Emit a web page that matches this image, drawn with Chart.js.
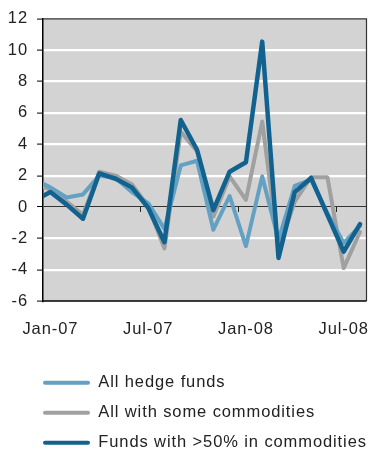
<!DOCTYPE html>
<html>
<head>
<meta charset="utf-8">
<script src="https://cdn.jsdelivr.net/npm/chart.js@4/dist/chart.umd.min.js"></script>
<style>
  html, body { margin: 0; padding: 0; background: #ffffff; }
  #wrap { width: 370px; height: 455px; }
</style>
</head>
<body>
<div id="wrap"><canvas id="c" width="370" height="455"></canvas></div>
<script>
// Months: Dec-06 .. Aug-08
const months = ['Dec-06','Jan-07','Feb-07','Mar-07','Apr-07','May-07','Jun-07','Jul-07','Aug-07','Sep-07','Oct-07','Nov-07','Dec-07',
                'Jan-08','Feb-08','Mar-08','Apr-08','May-08','Jun-08','Jul-08','Aug-08'];
const tickLabels = ['Jan-07','Jul-07','Jan-08','Jul-08'];

const seriesNames = ['All hedge funds', 'All with some commodities', 'Funds with >50% in commodities'];

const allHedgeFunds = [1.75, 1.25, 0.6, 0.8, 2.0, 1.85, 0.95, 0.25, -1.4, 2.65, 2.95, -1.45, 0.7,
                       -2.5, 1.95, -2.1, 1.35, 1.75, -0.4, -2.3, -1.2];
const someCommodities = [1.55, 1.1, 0.35, -0.5, 2.25, 2.0, 1.45, 0.05, -2.65, 4.8, 3.55, -0.6, 1.95,
                         0.45, 5.45, -2.7, 0.35, 1.9, 1.9, -3.9, -1.6];
const over50Commodities = [0.4, 0.95, 0.15, -0.75, 2.15, 1.8, 1.25, -0.05, -2.25, 5.55, 3.65, -0.2, 2.25,
                           2.85, 10.55, -3.25, 0.95, 1.85, -0.5, -2.85, -1.1];

const toPoints = arr => arr.map((v, i) => ({ x: i, y: v }));
const tickIndices = tickLabels.map(l => months.indexOf(l));

const FONT = { family: '"Liberation Sans", Arial, Helvetica, sans-serif', size: 16.5 };
const LETTER_SPACING = '0.9px';
const LEGEND_LEFT = 29.5;

const decorPlugin = {
  id: 'decor',
  beforeInit(chart) { chart.ctx.letterSpacing = LETTER_SPACING; },
  beforeUpdate(chart) { chart.ctx.letterSpacing = LETTER_SPACING; },
  beforeDraw(chart) {
    const { ctx, chartArea: a } = chart;
    ctx.letterSpacing = LETTER_SPACING;
    if (chart.legend) chart.legend.left = LEGEND_LEFT;
    ctx.save();
    ctx.fillStyle = '#d3d3d3';
    ctx.fillRect(a.left, a.top, a.right - a.left, a.bottom - a.top);
    ctx.restore();
  },
  beforeDatasetsDraw(chart) {
    const { ctx } = chart;
    const xs = chart.scales.x, ys = chart.scales.y;
    const y0 = ys.getPixelForValue(0);
    ctx.save();
    ctx.strokeStyle = '#222';
    ctx.lineWidth = 1;
    tickIndices.forEach(t => {
      const px = Math.round(xs.getPixelForValue(t - 0.5)) + 0.5;
      if (px <= chart.chartArea.left + 1) return;
      ctx.beginPath();
      ctx.moveTo(px, y0);
      ctx.lineTo(px, y0 + 5);
      ctx.stroke();
    });
    ctx.restore();
  },
  afterDatasetsDraw(chart) {
    const { ctx, chartArea: a } = chart;
    ctx.save();
    ctx.lineWidth = 1.2;
    ctx.strokeStyle = '#333';
    ctx.beginPath();
    ctx.moveTo(a.left, a.top); ctx.lineTo(a.right, a.top); ctx.lineTo(a.right, a.bottom);
    ctx.stroke();
    ctx.strokeStyle = '#000';
    ctx.lineWidth = 1.5;
    ctx.beginPath();
    ctx.moveTo(a.left, a.bottom); ctx.lineTo(a.right, a.bottom);
    ctx.stroke();
    ctx.restore();
  }
};

const colors = ['#63a0c1', '#a0a0a0', '#11628f'];
const widths = [4, 4, 4.5];

new Chart(document.getElementById('c'), {
  type: 'line',
  data: {
    datasets: [
      { label: seriesNames[0], data: toPoints(allHedgeFunds), borderColor: colors[0], backgroundColor: colors[0], borderWidth: widths[0], order: 2 },
      { label: seriesNames[1], data: toPoints(someCommodities), borderColor: colors[1], backgroundColor: colors[1], borderWidth: widths[1], order: 3 },
      { label: seriesNames[2], data: toPoints(over50Commodities), borderColor: colors[2], backgroundColor: colors[2], borderWidth: widths[2], order: 1 }
    ]
  },
  options: {
    responsive: false,
    animation: false,
    devicePixelRatio: 1,
    layout: { padding: { left: 0, right: 3.5, top: 15, bottom: 0 } },
    elements: {
      line: { tension: 0, fill: false, borderJoinStyle: 'round', borderCapStyle: 'round' },
      point: { radius: 0, hoverRadius: 0 }
    },
    datasets: { line: { clip: 0 } },
    scales: {
      x: {
        type: 'linear',
        min: 0.546,
        max: 20.4,
        grid: { display: false, drawTicks: true, tickLength: 19 },
        border: { display: false },
        afterBuildTicks: s => { s.ticks = tickIndices.map(v => ({ value: v })); },
        afterFit: s => { s.height = 60; s.paddingLeft = 0; s.paddingRight = 0; },
        ticks: {
          autoSkip: false,
          maxRotation: 0,
          padding: 0,
          color: '#222',
          font: FONT,
          callback: v => months[v]
        }
      },
      y: {
        min: -6,
        max: 12,
        afterFit: s => { s.width = 43; },
        ticks: { stepSize: 2, padding: 9, color: '#222', font: FONT },
        grid: {
          color: c => (c.tick.value === 0 ? '#333' : (c.tick.value === 12 || c.tick.value === -6 ? 'rgba(0,0,0,0)' : '#ffffff')),
          lineWidth: c => (c.tick.value === 0 ? 1 : 2.2),
          tickColor: '#000',
          tickWidth: 1,
          tickLength: 6
        },
        border: { display: true, color: '#000', width: 1.5 }
      }
    },
    plugins: {
      tooltip: { enabled: false },
      legend: {
        position: 'bottom',
        align: 'start',
        maxHeight: 94,
        labels: {
          boxWidth: 47,
          boxHeight: 4,
          padding: 13.5,
          color: '#222',
          font: FONT,
          sort: (a, b) => a.datasetIndex - b.datasetIndex,
          generateLabels: chart => {
            const items = Chart.defaults.plugins.legend.labels.generateLabels(chart);
            return items.map(it => Object.assign(it, {
              fillStyle: it.strokeStyle,
              lineWidth: 0,
              borderRadius: 2
            }));
          },
          useBorderRadius: true,
          borderRadius: 2
        }
      }
    }
  },
  plugins: [decorPlugin]
});
</script>
</body>
</html>
